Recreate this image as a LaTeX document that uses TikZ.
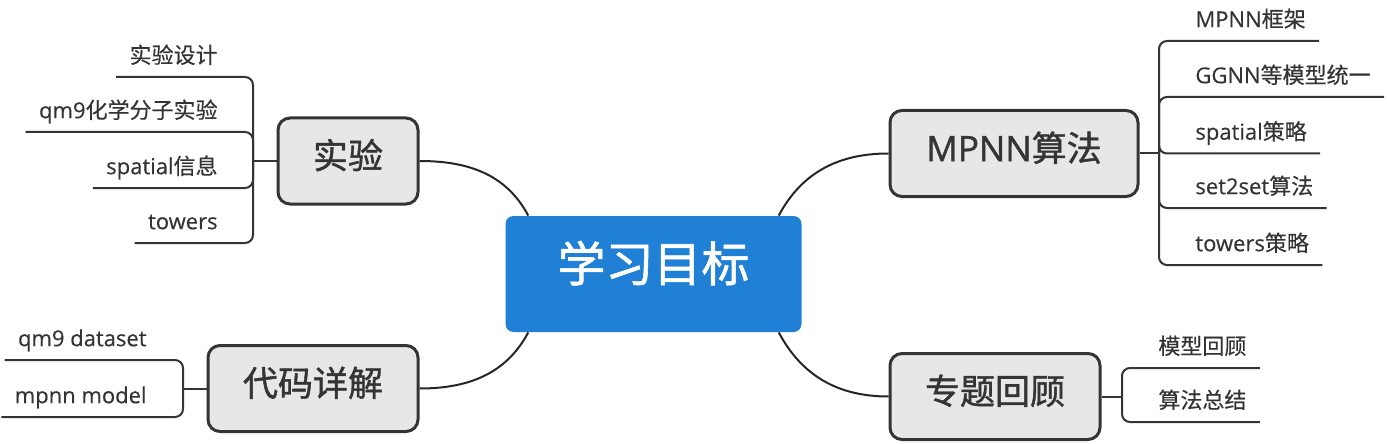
\documentclass[tikz,border=0pt]{standalone}
\usepackage{fontspec}
\setmainfont{Noto Sans CJK SC}[FakeBold=0.4]
\newfontfamily\heavycjk{Noto Sans CJK SC}[FakeBold=1.2]
\newfontfamily\lat{Open Sans}[FakeBold=0.4]
\newfontfamily\heavylat{Open Sans}[FakeBold=1.2]
\usepackage{xcolor}
\usepackage{tikz}
\usetikzlibrary{positioning}
\definecolor{goalblue}{RGB}{31,128,213}
\definecolor{topicgray}{RGB}{231,231,231}
\definecolor{inkgray}{RGB}{52,52,52}

\begin{document}
\begin{tikzpicture}[x=0.5pt, y=-0.5pt,
  goal/.style={fill=goalblue, text=white, rounded corners=4pt,
               minimum width=148pt, minimum height=58pt,
               font=\fontsize{24}{28}\heavycjk, text height=.88em, text depth=.12em},
  topic/.style={draw=inkgray, line width=1.5pt, fill=topicgray, rounded corners=6pt,
               minimum height=43pt, text=inkgray,
               font=\fontsize{17.5}{21}\heavycjk, text height=.88em, text depth=.12em},
  leaf/.style={inner xsep=6.5pt, inner ysep=4.2pt, text=inkgray,
               font=\fontsize{11}{13}\selectfont, text height=.8em, text depth=.25em},
  link/.style={draw=black!85, line width=1pt},
  twig/.style={draw=inkgray, line width=1pt, rounded corners=4pt}]

\useasboundingbox (0,0) rectangle (1387,444);

% centre and main topics
\node[goal] (goal) at (653.5,274) {学习目标};
\node[topic, minimum width=70pt] (exp) at (348,161) {实验};
\node[topic, minimum width=124pt] (mpnn) at (1014,153.5) {{\heavylat MPNN}算法};
\node[topic, minimum width=105pt] (code) at (313,388.5) {代码详解};
\node[topic, minimum width=105pt] (review) at (995,396.5) {专题回顾};

\draw[link] (goal.155) to[out=118,in=0] (exp.east);
\draw[link] (goal.25) to[out=62,in=180] (mpnn.west);
\draw[link] (goal.-155) to[out=-118,in=0] (code.east);
\draw[link] (goal.-25) to[out=-62,in=180] (review.west);

% experiment leaves
\coordinate (expfork) at (253,161);
\node[leaf, anchor=south east] (e1) at (231,77) {实验设计};
\node[leaf, anchor=south east] (e2) at (231,132) {{\lat qm9}化学分子实验};
\node[leaf, anchor=south east] (e3) at (231,188) {{\lat spatial}信息};
\node[leaf, anchor=south east] (e4) at (231,243) {{\lat towers}};
\draw[twig] (exp.west) -- (expfork);
\foreach \l in {e1,e2,e3,e4} \draw[twig] (expfork) |- (\l.south west);

% mpnn leaves
\coordinate (mpnnfork) at (1159,153.5);
\node[leaf, anchor=south west] (m1) at (1182,41) {{\lat MPNN}框架};
\node[leaf, anchor=south west] (m2) at (1182,97) {{\lat GGNN}等模型统一};
\node[leaf, anchor=south west] (m3) at (1182,153.5) {{\lat spatial}策略};
\node[leaf, anchor=south west] (m4) at (1182,208) {{\lat set2set}算法};
\node[leaf, anchor=south west] (m5) at (1182,265) {{\lat towers}策略};
\draw[twig] (mpnn.east) -- (mpnnfork);
\foreach \l in {m1,m2,m3,m4,m5} \draw[twig] (mpnnfork) |- (\l.south east);

% code leaves
\coordinate (codefork) at (183,388.5);
\node[leaf, anchor=south east] (c1) at (160,360) {{\lat qm9 dataset}};
\node[leaf, anchor=south east] (c2) at (160,417) {{\lat mpnn model}};
\draw[twig] (code.west) -- (codefork);
\foreach \l in {c1,c2} \draw[twig] (codefork) |- (\l.south west);

% review leaves
\coordinate (reviewfork) at (1122,396.5);
\node[leaf, anchor=south west] (r1) at (1145,368) {模型回顾};
\node[leaf, anchor=south west] (r2) at (1145,422) {算法总结};
\draw[twig] (review.east) -- (reviewfork);
\foreach \l in {r1,r2} \draw[twig] (reviewfork) |- (\l.south east);
\end{tikzpicture}
\end{document}
